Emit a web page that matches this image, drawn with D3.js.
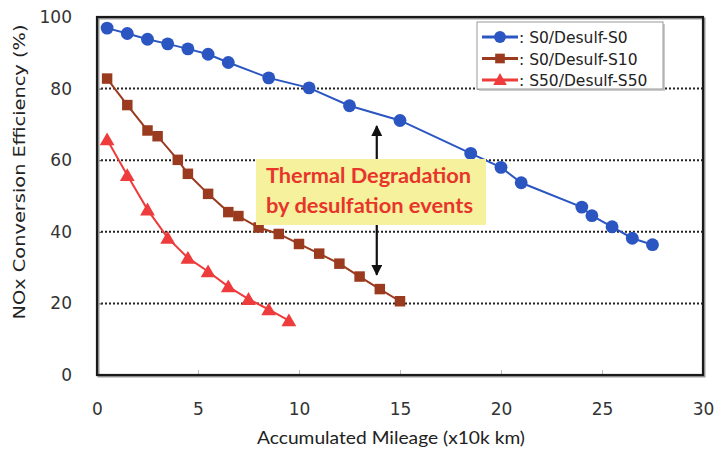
<!DOCTYPE html>
<html>
<head>
<meta charset="utf-8">
<script src="https://cdn.jsdelivr.net/npm/d3@7/dist/d3.min.js"></script>
<style>
html,body{margin:0;padding:0;background:#fff;}
svg{display:block;}
</style>
</head>
<body>
<svg id="chart" width="717" height="450"></svg>
<script>
// ---- data ----
const seriesNames = ["S0/Desulf-S0", "S0/Desulf-S10", "S50/Desulf-S50"];
const s0X = [0.5,1.5,2.5,3.5,4.5,5.5,6.5,8.5,10.5,12.5,15,18.5,20,21,24,24.5,25.5,26.5,27.5];
const s0Y = [96.9,95.4,93.8,92.5,91.1,89.6,87.3,83.0,80.2,75.2,71.1,61.9,58.0,53.7,46.9,44.5,41.4,38.2,36.4];
const s10X = [0.5,1.5,2.5,3,4,4.5,5.5,6.5,7,8,9,10,11,12,13,14,15];
const s10Y = [82.8,75.4,68.3,66.7,60.1,56.2,50.6,45.5,44.4,41.2,39.4,36.6,33.9,31.1,27.5,24.0,20.6];
const s50X = [0.5,1.5,2.5,3.5,4.5,5.5,6.5,7.5,8.5,9.5];
const s50Y = [65.8,55.8,46.2,38.3,32.7,28.9,24.7,21.2,18.3,15.2];
const xTicks = [0,5,10,15,20,25,30];
const yTicks = [0,20,40,60,80,100];
const gridValues = [20,40,60,80];
const annotationLines = ["Thermal Degradation", "by desulfation events"];

const colors = ["#2b56c2", "#9a3b1f", "#ee3b3b"];
const markers = [d3.symbolCircle, d3.symbolSquare, d3.symbolTriangle];
const markerSizes = [130, 110, 95];

const svg = d3.select("#chart");
const L = 97, R = 703, T = 17, B = 375;
const x = d3.scaleLinear().domain([0,30]).range([L,R]);
const y = d3.scaleLinear().domain([0,100]).range([B,T]);

// grid
svg.append("g").selectAll("line").data(gridValues).join("line")
  .attr("x1", L).attr("x2", R)
  .attr("y1", d=>y(d)).attr("y2", d=>y(d))
  .attr("stroke", "#222").attr("stroke-width", 2)
  .attr("stroke-dasharray", "2,2");

// axes (ticks inside)
const yAxis = d3.axisLeft(y).tickValues(yTicks).tickSize(-5).tickPadding(25).tickFormat(d3.format("d"));
const gy = svg.append("g").attr("transform", `translate(${L},0)`).call(yAxis);
gy.select(".domain").remove();
gy.selectAll("line").attr("stroke", "#444");
gy.selectAll("text").attr("font-family", "DejaVu Sans, sans-serif")
  .attr("font-size", 17).attr("fill", "#333");

const xAxis = d3.axisBottom(x).tickValues(xTicks).tickSize(-5).tickPadding(28).tickFormat(d3.format("d"));
const gx = svg.append("g").attr("transform", `translate(0,${B})`).call(xAxis);
gx.select(".domain").remove();
gx.selectAll("line").attr("stroke", "#bbb");
gx.selectAll("text").attr("font-family", "DejaVu Sans, sans-serif")
  .attr("font-size", 17).attr("fill", "#333");

// frame with shadow
svg.append("rect").attr("x", L+1.5).attr("y", T+1.5).attr("width", R-L).attr("height", B-T)
  .attr("fill", "none").attr("stroke", "#999").attr("stroke-width", 2);
svg.append("rect").attr("x", L).attr("y", T).attr("width", R-L).attr("height", B-T)
  .attr("fill", "none").attr("stroke", "#1a1a1a").attr("stroke-width", 2.2);

// annotation arrow
const ax = x(13.85);
const defs = svg.append("defs");
defs.append("marker").attr("id","ah").attr("viewBox","0 0 10 10").attr("refX",9).attr("refY",5)
  .attr("markerWidth",5).attr("markerHeight",5).attr("orient","auto-start-reverse")
  .append("path").attr("d","M0,0 L10,5 L0,10 Z").attr("fill","#111");
svg.append("line").attr("x1", ax).attr("x2", ax).attr("y1", y(69.5)).attr("y2", y(28))
  .attr("stroke", "#111").attr("stroke-width", 2.2)
  .attr("marker-start","url(#ah)").attr("marker-end","url(#ah)");

// series
const allX = [s0X, s10X, s50X], allY = [s0Y, s10Y, s50Y];
const line = d3.line().x(d=>x(d[0])).y(d=>y(d[1]));
allX.forEach((xs, i) => {
  const pts = xs.map((v, j) => [v, allY[i][j]]);
  svg.append("path").datum(pts).attr("d", line)
    .attr("fill", "none").attr("stroke", colors[i]).attr("stroke-width", 2);
  svg.append("g").selectAll("path").data(pts).join("path")
    .attr("transform", d=>`translate(${x(d[0])},${y(d[1]) + (i===2?1.5:0)})`)
    .attr("d", d3.symbol().type(markers[i]).size(markerSizes[i]))
    .attr("fill", colors[i]);
});

// annotation box
svg.append("rect").attr("x", 256).attr("y", 159).attr("width", 230).attr("height", 66)
  .attr("fill", "#f5f19c");
svg.append("g").selectAll("text").data(annotationLines).join("text")
  .attr("x", 266).attr("y", (d,i)=>183 + i*30)
  .attr("font-family", "Lato, Open Sans, sans-serif").attr("font-weight", 700)
  .attr("font-size", 20.5).attr("fill", "#e8352c")
  .attr("textLength", (d,i)=> i===0 ? 205 : 207).attr("lengthAdjust", "spacingAndGlyphs")
  .text(d=>d);

// legend
const lg = svg.append("g");
lg.append("rect").attr("x", 479).attr("y", 24).attr("width", 186).attr("height", 67)
  .attr("fill", "#ccc");
lg.append("rect").attr("x", 477).attr("y", 22).attr("width", 186).attr("height", 67)
  .attr("fill", "#fff").attr("stroke", "#999").attr("stroke-width", 1);
seriesNames.forEach((name, i) => {
  const ly = 37 + i*21.5;
  lg.append("line").attr("x1", 482).attr("x2", 518).attr("y1", ly).attr("y2", ly)
    .attr("stroke", colors[i]).attr("stroke-width", 3);
  lg.append("path").attr("transform", `translate(500,${ly + (i===2?1:0)})`)
    .attr("d", d3.symbol().type(markers[i]).size(markerSizes[i]*0.85)).attr("fill", colors[i]);
  lg.append("text").attr("x", 519).attr("y", ly + 6)
    .attr("font-family", "DejaVu Sans, sans-serif").attr("font-size", 15.5)
    .attr("fill", "#222").text(": " + name);
});

// axis titles
svg.append("text").attr("transform", `translate(25,172) rotate(-90)`)
  .attr("text-anchor", "middle").attr("font-family", "DejaVu Sans, sans-serif")
  .attr("font-size", 15.5).attr("fill", "#222")
  .attr("textLength", 295).attr("lengthAdjust", "spacingAndGlyphs")
  .text("NOx Conversion Efficiency (%)");
svg.append("text").attr("x", 391).attr("y", 444)
  .attr("text-anchor", "middle").attr("font-family", "Lato, Open Sans, sans-serif")
  .attr("font-size", 17.5).attr("fill", "#222")
  .attr("textLength", 268).attr("lengthAdjust", "spacingAndGlyphs")
  .text("Accumulated Mileage (x10k km)");
</script>
</body>
</html>
